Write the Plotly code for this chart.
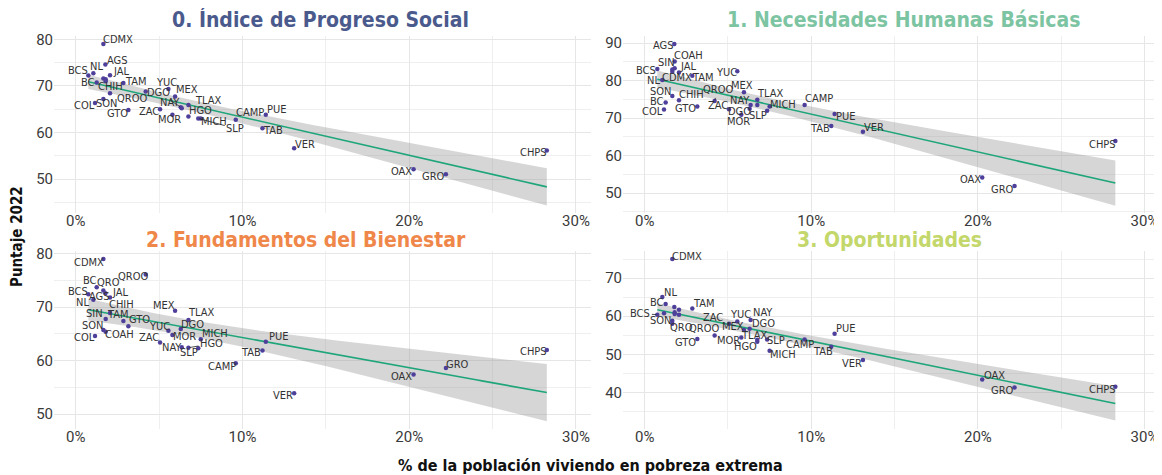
import numpy as np
import plotly.graph_objects as go

# ---------------- data ----------------
states = ["AGS", "BC", "BCS", "CAMP", "CDMX", "CHIH", "CHPS", "COAH", "COL", "DGO",
          "GRO", "GTO", "HGO", "JAL", "MEX", "MICH", "MOR", "NAY", "NL", "OAX",
          "PUE", "QRO", "QROO", "SIN", "SLP", "SON", "TAB", "TAM", "TLAX", "VER",
          "YUC", "ZAC"]
pobreza_extrema = [1.78, 1.26, 0.76, 9.6, 1.66, 2.06, 28.25, 1.80, 1.16, 6.30,
                   22.2, 3.16, 6.76, 2.06, 5.96, 7.50, 5.80, 6.36, 1.06, 20.26,
                   11.4, 1.66, 4.20, 1.80, 7.35, 1.66, 11.2, 2.86, 6.76, 13.1,
                   5.56, 5.06]
ips = [74.6, 70.7, 72.2, 62.7, 79.0, 68.4, 56.1, 71.4, 66.3, 65.4,
       51.0, 64.8, 63.4, 72.3, 67.7, 63.0, 63.8, 65.2, 72.7, 52.1,
       63.8, 71.6, 68.8, 71.0, 63.0, 67.2, 60.9, 70.6, 65.9, 56.6,
       69.3, 65.0]
necesidades = [89.8, 74.2, 83.1, 73.5, 82.4, 74.8, 63.9, 85.1, 72.3, 72.5,
               51.9, 73.1, 73.5, 82.2, 76.9, 73.1, 70.9, 73.5, 80.2, 54.2,
               71.1, 83.0, 74.6, 83.3, 72.0, 75.9, 67.9, 81.3, 74.9, 66.4,
               82.5, 72.4]
fundamentos = [72.6, 73.7, 72.4, 59.5, 79.0, 68.9, 62.0, 65.4, 64.6, 65.9,
               58.6, 66.4, 62.4, 71.8, 69.3, 64.0, 64.8, 62.5, 71.4, 57.4,
               63.5, 73.1, 76.1, 67.8, 62.3, 65.7, 61.9, 67.4, 67.6, 53.9,
               65.6, 63.4]
oportunidades = [62.4, 63.2, 60.4, 53.9, 75.0, 60.4, 41.5, 60.6, 60.8, 56.7,
                 41.3, 54.0, 53.3, 61.7, 56.4, 50.9, 54.4, 59.0, 65.0, 43.4,
                 55.4, 58.0, 54.9, 61.0, 53.9, 58.8, 52.0, 62.0, 53.8, 48.5,
                 58.6, 58.0]
panel_titles = ["0. Índice de Progreso Social", "1. Necesidades Humanas Básicas",
                "2. Fundamentos del Bienestar", "3. Oportunidades"]
x_ticks = [0, 10, 20, 30]
x_tick_labels = ["0%", "10%", "20%", "30%"]

# ---------------- styling / layout (not data) ----------------
# the page body has an 8px default margin: the figure is sized/placed to compensate
OFF = 8
FIG_W, FIG_H = 1162 - OFF, 475 - OFF


def px_x(X):
    return (X - OFF) / FIG_W


def px_y(Y):
    return 1 - (Y - OFF) / FIG_H


title_colors = ["#4a5a8c", "#7cc4a2", "#f0874a", "#c3d76a"]
title_centers_px = [320, 903, 306, 889]
y_ranges = [[42.7, 80.7], [44.7, 91.9], [47.2, 80.5], [30.4, 77.1]]
x_range = [-1.3, 30.9]
x_domains = [[px_x(54), px_x(591)], [px_x(623), px_x(1159.5)]]
y_domains = [[px_y(213), px_y(36)], [px_y(429), px_y(251)]]
title_y = [px_y(20), px_y(240)]

# label offsets in px (dx, dy screen-down), third item: draw segment
label_offsets = [
    {"CDMX": (15, -4), "AGS": (12, -4), "NL": (3, -7), "BCS": (-10, -5), "JAL": (11, -4),
     "BC": (-9, 0), "CHIH": (0, -7), "TAM": (13, -2), "SON": (3, 5), "COL": (-11, 2),
     "GTO": (-11, 3), "QROO": (-14, 7, True), "DGO": (-22, -15, True), "YUC": (-2, -7),
     "MEX": (12, -7), "NAY": (-12, -6), "TLAX": (20, -4), "ZAC": (-11, 2), "HGO": (12, -6),
     "MOR": (-3, 5), "MICH": (13, 3), "SLP": (37, 10, True), "CAMP": (14, -7),
     "PUE": (11, -5), "TAB": (11, 2), "VER": (11, -4), "CHPS": (-13, 2), "OAX": (-12, 2),
     "GRO": (-12, 2)},
    {"AGS": (-11, 2), "COAH": (14, -6), "SIN": (-8, -6), "BCS": (-11, 1), "JAL": (9, -6),
     "NL": (-9, 1), "CDMX": (5, 6), "TAM": (11, 2), "YUC": (-11, 1), "SON": (-12, -5),
     "BC": (-9, -1), "CHIH": (13, -6), "COL": (-11, 2), "GTO": (-12, 2),
     "QROO": (3, -11, True), "ZAC": (-11, -4), "MEX": (-2, -7), "NAY": (-11, -5),
     "TLAX": (13, -6), "DGO": (-10, 3), "MOR": (-3, 7), "SLP": (-9, 5), "MICH": (13, -2),
     "CAMP": (14, -7), "PUE": (11, 2), "TAB": (-11, 2), "VER": (11, -4), "CHPS": (-13, 3),
     "OAX": (-12, 2), "GRO": (-12, 3)},
    {"CDMX": (-14, 3), "QROO": (-13, 2), "BC": (-7, -7), "QRO": (5, -8), "BCS": (-10, -3),
     "AGS": (-6, 3), "JAL": (10, -5), "NL": (-11, 3), "CHIH": (11, -9), "SIN": (-11, -5),
     "TAM": (-5, -7), "GTO": (11, -7), "SON": (-11, -5), "COAH": (14, 3), "COL": (-11, 2),
     "MEX": (-11, -5), "TLAX": (13, -7), "DGO": (12, -5), "YUC": (-9, -4), "MOR": (12, 2),
     "ZAC": (-11, -5), "MICH": (14, -6), "HGO": (23, -4, True), "NAY": (-10, 0),
     "SLP": (-9, 4), "PUE": (13, -5), "TAB": (-11, 2), "CAMP": (-14, 3), "VER": (-11, 2),
     "CHPS": (-13, 2), "GRO": (12, -4), "OAX": (-12, 2)},
    {"CDMX": (15, -3), "NL": (8, -5), "BC": (-9, -1), "TAM": (12, -5), "BCS": (-17, -1, True),
     "SON": (-12, 0), "QRO": (9, 4), "QROO": (-11, -7), "GTO": (-12, 3), "ZAC": (-16, -6),
     "YUC": (3, -7), "NAY": (12, -7), "MEX": (-11, -3), "DGO": (14, -5), "MOR": (-13, 3),
     "TLAX": (-3, -4), "HGO": (-12, 5), "SLP": (9, 1), "MICH": (13, 4), "CAMP": (-5, 5),
     "PUE": (11, -5), "TAB": (-8, 5), "VER": (-11, 3), "OAX": (12, -4), "GRO": (-12, 3),
     "CHPS": (-13, 3)},
]

label_font = dict(family="Liberation Sans Narrow, DejaVu Sans Condensed, Roboto, sans-serif",
                  size=11, color="#333333")
tick_font = dict(family="Roboto, Liberation Sans, sans-serif", size=15, color="#3a3a3a")
title_font_family = "Liberation Sans Narrow, DejaVu Sans Condensed, Roboto, sans-serif"


def fit_band(x, y, grid):
    x = np.asarray(x, float)
    y = np.asarray(y, float)
    n = len(x)
    b1, b0 = np.polyfit(x, y, 1)
    yhat = b0 + b1 * grid
    resid = y - (b0 + b1 * x)
    s = np.sqrt(np.sum(resid ** 2) / (n - 2))
    xm = x.mean()
    sxx = np.sum((x - xm) ** 2)
    se = s * np.sqrt(1 / n + (grid - xm) ** 2 / sxx)
    t = 2.042  # t(0.975, df=30)
    return yhat, yhat - t * se, yhat + t * se


series = [ips, necesidades, fundamentos, oportunidades]
fig = go.Figure()
annotations = []
grid = np.linspace(min(pobreza_extrema), max(pobreza_extrema), 100)

for i, vals in enumerate(series):
    ax_id = "" if i == 0 else str(i + 1)
    xref, yref = "x" + ax_id, "y" + ax_id
    yhat, lo, hi = fit_band(pobreza_extrema, vals, grid)
    fig.add_trace(go.Scatter(
        x=np.concatenate([grid, grid[::-1]]), y=np.concatenate([hi, lo[::-1]]),
        fill="toself", fillcolor="rgba(153,153,153,0.4)", line=dict(width=0),
        mode="lines", hoverinfo="skip", showlegend=False, xaxis=xref, yaxis=yref))
    fig.add_trace(go.Scatter(
        x=grid, y=yhat, mode="lines", line=dict(color="#1ea57a", width=1.6),
        hoverinfo="skip", showlegend=False, xaxis=xref, yaxis=yref))
    fig.add_trace(go.Scatter(
        x=pobreza_extrema, y=vals, mode="markers", text=states,
        marker=dict(color="#4e3f9b", size=4.5), showlegend=False,
        xaxis=xref, yaxis=yref))

    for st, xv, yv in zip(states, pobreza_extrema, vals):
        off = label_offsets[i].get(st)
        if off is None:
            continue
        dx, dy = off[0], off[1]
        seg = len(off) > 2 and off[2]
        if seg:
            annotations.append(dict(
                x=xv, y=yv, xref=xref, yref=yref, text=st, showarrow=True,
                ax=dx, ay=dy, arrowhead=0, arrowwidth=0.8, arrowcolor="#222222",
                standoff=1, font=label_font))
        else:
            annotations.append(dict(
                x=xv, y=yv, xref=xref, yref=yref, text=st, showarrow=False,
                xshift=dx, yshift=-dy, font=label_font))

    r, c = divmod(i, 2)
    xd = x_domains[c]
    yd = y_domains[r]
    fig.update_layout(**{
        "xaxis" + ax_id: dict(
            domain=xd, range=x_range, anchor=yref, tickvals=x_ticks, ticktext=x_tick_labels,
            showgrid=True, gridcolor="#e6e6e6", gridwidth=1, zeroline=False, showline=False,
            ticks="", tickfont=tick_font, automargin=False, ticklabelstandoff=-3,
            minor=dict(tickvals=[5, 15, 25], showgrid=True, gridcolor="#efefef", gridwidth=0.8)),
        "yaxis" + ax_id: dict(
            domain=yd, range=y_ranges[i], anchor=xref, dtick=10, tick0=0,
            showgrid=True, gridcolor="#e6e6e6", gridwidth=1, zeroline=False, showline=False,
            ticks="", tickfont=tick_font, automargin=False,
            minor=dict(dtick=5, tick0=0, showgrid=True, gridcolor="#efefef", gridwidth=0.8)),
    })
    annotations.append(dict(
        x=px_x(title_centers_px[i]), y=title_y[r],
        xref="paper", yref="paper", text="<b>" + panel_titles[i] + "</b>",
        showarrow=False, font=dict(family=title_font_family, size=21, color=title_colors[i]),
        xanchor="center", yanchor="middle"))

annotations.append(dict(
    x=px_x(17), y=px_y(237), xref="paper", yref="paper", text="<b>Puntaje 2022</b>",
    textangle=-90, showarrow=False, xanchor="center", yanchor="middle",
    font=dict(family=title_font_family, size=15, color="#111111")))
annotations.append(dict(
    x=px_x(590), y=px_y(465), xref="paper", yref="paper",
    text="<b>% de la población viviendo en pobreza extrema</b>", showarrow=False,
    xanchor="center", yanchor="middle",
    font=dict(family=title_font_family, size=16, color="#111111")))

fig.update_layout(
    width=FIG_W, height=FIG_H, margin=dict(l=0, r=0, t=0, b=0),
    paper_bgcolor="white", plot_bgcolor="white", annotations=annotations,
    showlegend=False)

fig.write_html("out.html")
